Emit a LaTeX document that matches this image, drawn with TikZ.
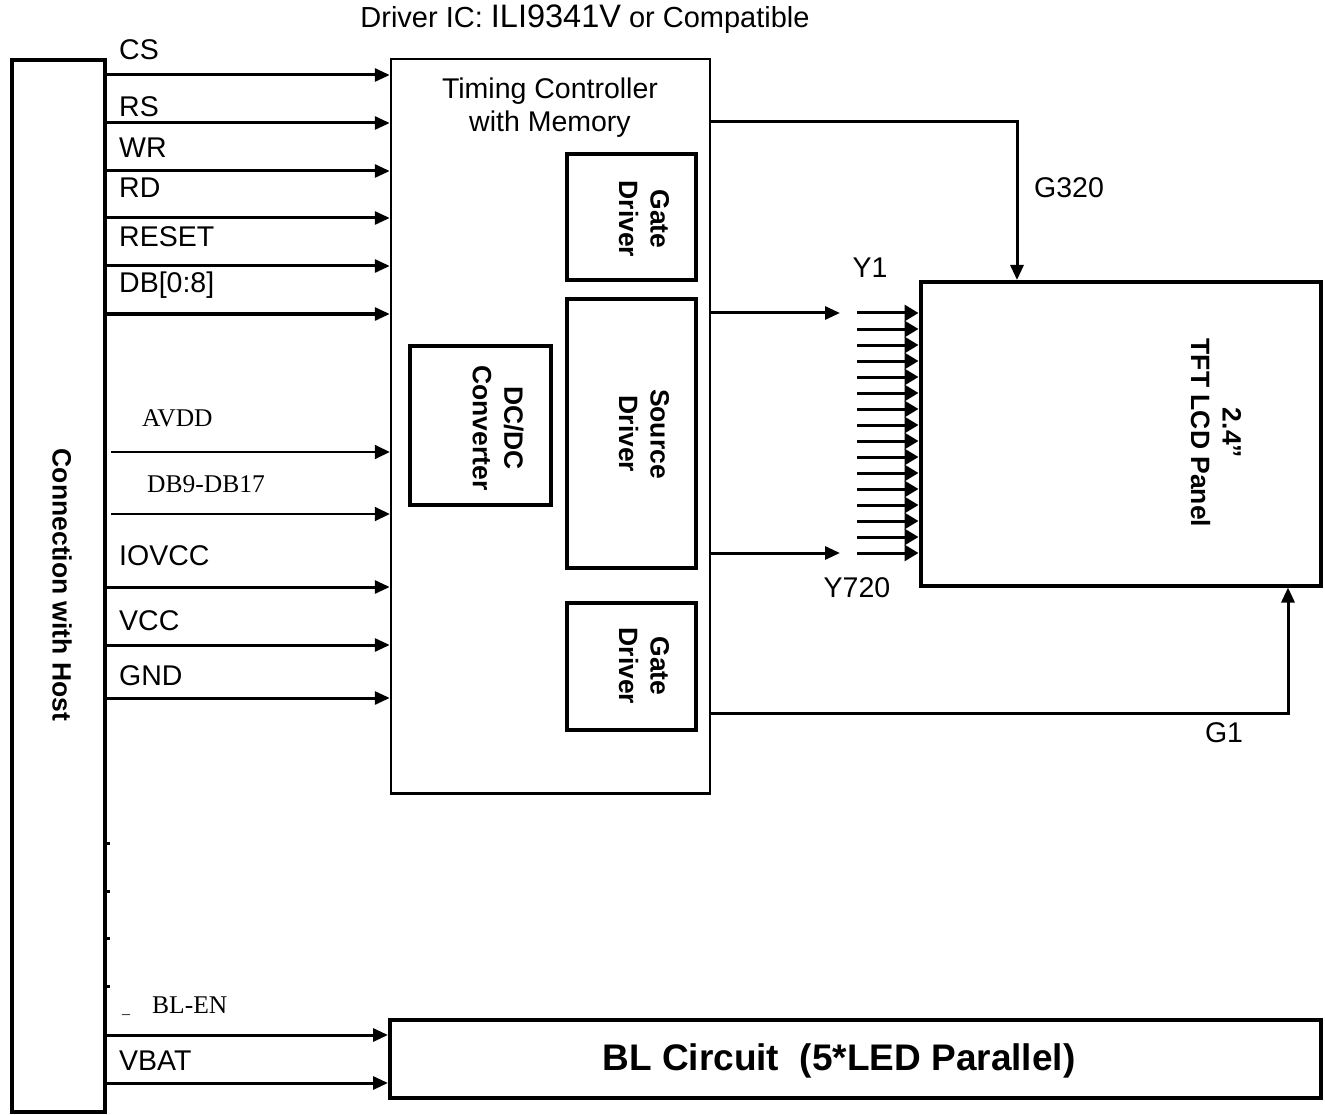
\documentclass[tikz,border=0pt]{standalone}
\usepackage{fontspec}
\setmainfont{Liberation Sans}
\newfontfamily\seriffont{Liberation Serif}
\usetikzlibrary{arrows.meta}
\begin{document}
\begin{tikzpicture}[x=1pt,y=-1pt,
  box/.style={draw, line width=4pt, inner sep=0pt, outer sep=2pt},
  icbox/.style={draw, line width=2.5pt, inner sep=0pt, outer sep=1.25pt},
  sig/.style={line width=3pt, -{Triangle[length=15pt,width=13pt]}},
  thinsig/.style={line width=2pt, -{Triangle[length=15pt,width=14pt]}},
  fan/.style={line width=3pt, -{Triangle[length=14pt,width=16pt]}},
  lbl/.style={anchor=base west, inner sep=0pt, font=\fontsize{28.5}{34}\selectfont},
  clbl/.style={anchor=base, inner sep=0pt, font=\fontsize{28.5}{34}\selectfont},
  slbl/.style={anchor=base west, inner sep=0pt, font=\seriffont\fontsize{25.5}{30}\selectfont},
  vtxt/.style={rotate=-90, align=center, font=\bfseries\fontsize{26.5}{31.5}\selectfont, inner sep=0pt},
]
\useasboundingbox (0,0) rectangle (1325,1115);

% main blocks
\node[box, minimum width=93.5pt, minimum height=1052pt] (host) at (58.25,586) {};
\node[vtxt] (hosttxt) at (62,585) {Connection with Host};

\node[icbox, minimum width=319pt, minimum height=734.5pt] (ic) at (550.5,426.25) {};
\node[clbl] (tc) at (550,99) {Timing Controller};
\node[clbl] (tc2) at (550,132) {with Memory};

\node[box, minimum width=129pt, minimum height=126pt] (gate1) at (631.5,217.5) {};
\node[vtxt] (gate1t) at (644,219) {Gate\\Driver};
\node[box, minimum width=129pt, minimum height=269pt] (src) at (631.5,433.5) {};
\node[vtxt] (srct) at (644,434) {Source\\Driver};
\node[box, minimum width=141pt, minimum height=159pt] (dcdc) at (480,425.5) {};
\node[vtxt] (dcdct) at (498,428) {DC/DC\\Converter};
\node[box, minimum width=129pt, minimum height=127pt] (gate2) at (631.5,666) {};
\node[vtxt] (gate2t) at (644,666) {Gate\\Driver};

\node[box, minimum width=400pt, minimum height=303.5pt] (panel) at (1120.5,433.75) {};
\node[vtxt] (panelt) at (1216,433) {2.4”\\TFT LCD Panel};

\node[box, minimum width=931pt, minimum height=78pt] (bl) at (855.5,1058.5) {};
\node[inner sep=0pt, font=\bfseries\fontsize{37}{44}\selectfont] (blt) at (839,1061) {BL Circuit~~(5*LED Parallel)};

% title
\node[anchor=base, inner sep=0pt, font=\fontsize{29}{34}\selectfont] (title) at (585,28)
  {Driver IC: {\fontsize{32.5}{38}\selectfont ILI9341V} or Compatible};

% host -> IC signals
\foreach \y in {75,123,171,218,266,314,587,645,698}
  \draw[sig] (host.east |- 0,\y) -- (ic.west |- 0,\y);
\coordinate (h2) at ([xshift=4pt]host.east);
\foreach \y in {452,514}
  \draw[thinsig] (h2 |- 0,\y) -- (ic.west |- 0,\y);

% labels of host signals
\node[lbl] (lcs) at (119,60) {CS};
\node[lbl] (lrs) at (119,117) {RS};
\node[lbl] (lwr) at (119,158) {WR};
\node[lbl] (lrd) at (119,198) {RD};
\node[lbl] (lreset) at (119,247) {RESET};
\node[lbl] (ldb) at (119,293) {DB[0:8]};
\node[slbl] (lavdd) at (142,426) {AVDD};
\node[slbl] (ldb9) at (147,492) {DB9-DB17};
\node[lbl] (liovcc) at (119,565) {IOVCC};
\node[lbl] (lvcc) at (119,630) {VCC};
\node[lbl] (lgnd) at (119,685) {GND};
\node[anchor=base west, inner sep=0pt, font=\seriffont\fontsize{16}{19}\selectfont] (lus) at (122,1013) {\textunderscore};
\node[slbl] (lblen) at (152,1013) {BL-EN};
\node[lbl] (lvbat) at (119,1070) {VBAT};

% ticks on host edge
\foreach \y in {843,891,938,986}
  \draw[line width=3pt] (host.east |- 0,\y) -- ++(3,0);

% backlight arrows
\foreach \y in {1035,1083}
  \draw[sig] (host.east |- 0,\y) -- (bl.west |- 0,\y);

% source outputs
\coordinate (so1) at (840,313);
\coordinate (so2) at (840,553);
\draw[sig] (ic.east |- so1) -- (so1);
\draw[sig] (ic.east |- so2) -- (so2);
\foreach \i in {0,...,15}{
  \coordinate (f\i) at (857,{313+16*\i});
  \draw[fan] (f\i) -- (panel.west |- f\i);
}
\node[clbl] (ly1) at (870,278) {Y1};
\node[clbl] (ly720) at (857,597) {Y720};

% gate lines
\coordinate (gx) at (1017,0);
\coordinate (g1x) at (1288,0);
\draw[sig] (ic.east |- 0,122) -| (panel.north -| gx);
\draw[sig] (ic.east |- 0,713) -| (panel.south -| g1x);
\node[clbl] (lg320) at (1069,198) {G320};
\node[clbl] (lg1) at (1224,742) {G1};
\end{tikzpicture}
\end{document}
